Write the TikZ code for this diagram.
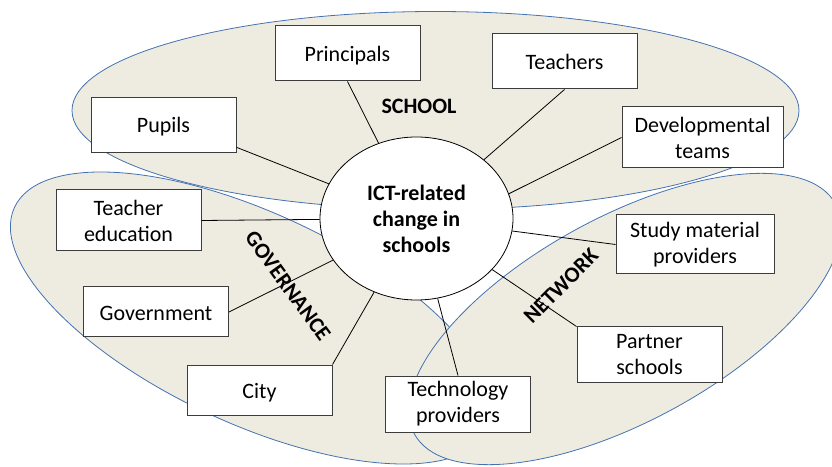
\documentclass[tikz,border=0pt]{standalone}
\usepackage{fontspec}
\setmainfont{Carlito}
\usepackage{tikz}
\usetikzlibrary{positioning}
\usetikzlibrary{shapes.geometric}
\definecolor{mybeige}{RGB}{238,236,225}
\definecolor{myblue}{RGB}{68,114,176}
\definecolor{mygrey}{RGB}{60,60,60}

\begin{document}
\begin{tikzpicture}[x=1pt,y=1pt,font=\fontsize{22}{26}\selectfont]
    % estilos
    \tikzstyle{area}=[draw=myblue,fill=mybeige,line width=0.8pt]
    \tikzstyle{actor}=[draw=mygrey,fill=white,line width=1pt,minimum width=145pt,minimum height=55pt,align=center,inner sep=2pt]
    \tikzstyle{oneline}=[text height=20pt,text depth=4pt]
    \tikzstyle{link}=[line width=0.8pt]
    \tikzstyle{group}=[font=\fontsize{22}{26}\selectfont\bfseries]
    \useasboundingbox (0,0) rectangle (832,466);

    % las tres areas
    \draw[area] (435.5,355.5) ellipse [x radius=363.5, y radius=99];
    \draw[area,rotate around={-25:(252,148)}] (252,148) ellipse [x radius=262, y radius=105];
    \draw[area,rotate around={28.6:(625,147)}] (625,147) ellipse [x radius=240, y radius=102];

    \node[ellipse,draw,fill=white,line width=0.8pt,minimum width=193pt,minimum height=163pt,inner sep=0pt,align=center,group] (ict) at (416.5,247.5) {ICT-related\\change in\\schools};

    \node[actor,oneline] (pupils) at (163.5,341) {Pupils};
    \node[actor,oneline] (principals) at (347.5,412.5) {Principals};
    \node[actor,oneline] (teachers) at (564.5,404.5) {Teachers};
    \node[actor,minimum width=161pt,minimum height=61pt] (devteams) at (702.5,328.5) {Developmental\\teams};
    \node[actor,minimum height=61pt] (teachered) at (128.5,245.5) {Teacher\\education};
    \node[actor,oneline,minimum height=50pt] (government) at (156,154) {Government};
    \node[actor,oneline,minimum height=50pt] (city) at (259.5,76) {City};
    \node[actor,minimum height=56pt] (techprov) at (458,62) {Technology\\providers};
    \node[actor] (partners) at (649.5,111.5) {Partner\\schools};
    \node[actor,minimum width=158pt,minimum height=59pt] (studymat) at (695,221.5) {Study material\\providers};

    \path[link]
    (ict) edge (pupils.-17)
    (ict) edge (principals.south)
    (ict) edge (teachers.south)
    (ict.15) edge (devteams.west)
    (ict) edge (teachered.east)
    (ict) edge (government.east)
    (ict) edge (city.north east)
    (ict) edge (techprov.north)
    (ict) edge (partners.north west)
    (ict) edge (studymat.west);

    \node[group] (school) at (419,360) {SCHOOL};
    \node[group,rotate=-54] (governance) at (288,180) {GOVERNANCE};
    \node[group,rotate=45] (network) at (561,180) {NETWORK};

\end{tikzpicture}
\end{document}
